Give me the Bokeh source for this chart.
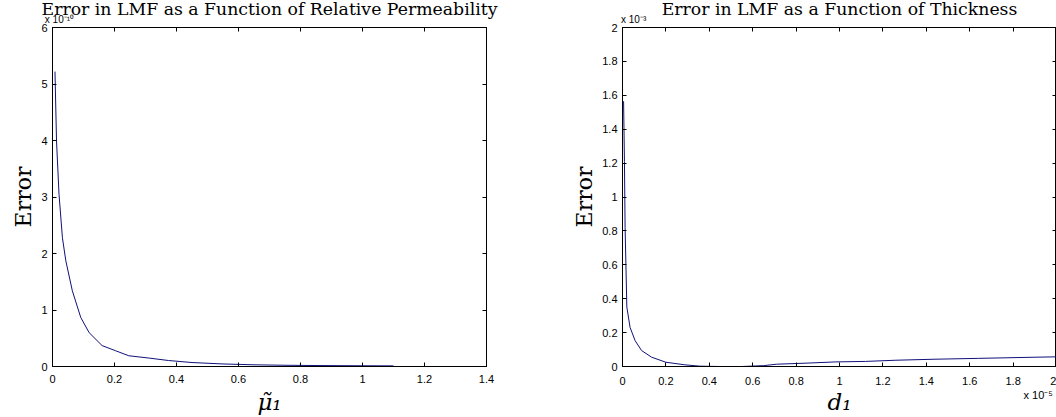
from bokeh.plotting import figure
from bokeh.models import LinearAxis, Range1d, FixedTicker, Title, CustomJSTickFormatter
from bokeh.layouts import row
from bokeh.embed import file_html
from bokeh.resources import INLINE

# ---- data ----
mu = [0.008, 0.013, 0.021, 0.032, 0.043, 0.064, 0.091, 0.118, 0.16, 0.203,
      0.246, 0.31, 0.374, 0.45, 0.55, 0.65, 0.75, 0.85, 0.95, 1.05, 1.1]
err_mu = [5.22, 3.99, 3.05, 2.28, 1.87, 1.34, 0.87, 0.60, 0.37, 0.28,
          0.19, 0.15, 0.106, 0.07, 0.045, 0.03, 0.022, 0.017, 0.014, 0.012, 0.011]

d = [0.005, 0.009, 0.012, 0.02, 0.035, 0.058, 0.088, 0.134, 0.2, 0.287, 0.356,
     0.45, 0.55, 0.65, 0.71, 0.85, 0.98, 1.12, 1.26, 1.44, 1.64, 1.91, 2.0]
err_d = [1.565, 1.21, 0.82, 0.35, 0.23, 0.153, 0.094, 0.055, 0.025, 0.01, 0.002,
         0.0, 0.0, 0.005, 0.0135, 0.02, 0.027, 0.03, 0.037, 0.043, 0.048, 0.055, 0.057]

x1_ticks = [0, 0.2, 0.4, 0.6, 0.8, 1.0, 1.2, 1.4]
x1_labels = ["0", "0.2", "0.4", "0.6", "0.8", "1", "1.2", "1.4"]
y1_ticks = [0, 1, 2, 3, 4, 5, 6]
y1_labels = ["0", "1", "2", "3", "4", "5", "6"]

x2_ticks = [0, 0.2, 0.4, 0.6, 0.8, 1.0, 1.2, 1.4, 1.6, 1.8, 2.0]
x2_labels = ["0", "0.2", "0.4", "0.6", "0.8", "1", "1.2", "1.4", "1.6", "1.8", "2"]
y2_ticks = [0, 0.2, 0.4, 0.6, 0.8, 1.0, 1.2, 1.4, 1.6, 1.8, 2.0]
y2_labels = ["0", "0.2", "0.4", "0.6", "0.8", "1", "1.2", "1.4", "1.6", "1.8", "2"]

titles = ["Error in LMF as a Function of Relative Permeability",
          "Error in LMF as a Function of Thickness"]
xlabels = ["\u03bc\u0303\u2081", "d\u2081"]
ylabel = "Error"
exponents = ["x 10\u207b\u00b9\u2070", "x 10\u207b\u00b3", "x 10\u207b\u2075"]

LINE = "#10107a"
TICKFONT = "Liberation Sans"
SERIF = "DejaVu Serif"
NB = "\u00a0"


def make(xs, ys, xr, yr, xt, xl, yt, yl, title, xlab, width, bl, br, top_exp):
    p = figure(width=width, height=417, output_backend="svg", toolbar_location=None,
               x_range=Range1d(*xr), y_range=Range1d(*yr),
               min_border_left=bl, min_border_right=br, min_border_top=27,
               min_border_bottom=51)
    p.title = Title(text=title, text_font=SERIF, text_font_size="17.3px",
                    text_font_style="normal", text_color="black", align="center",
                    vertical_align="bottom", offset=-15, standoff=-16)
    p.grid.visible = False
    p.outline_line_color = "black"
    p.outline_line_width = 1
    p.background_fill_color = "white"
    p.border_fill_color = "white"
    p.line(xs, ys, line_color=LINE, line_width=1)

    xa = p.xaxis[0]
    ya = p.yaxis[0]
    for ax in (xa, ya):
        ax.major_tick_in = 4
        ax.major_tick_out = 0
        ax.minor_tick_line_color = None
        ax.axis_line_color = "black"
        ax.major_label_text_font = TICKFONT
        ax.major_label_text_font_size = "11px"
        ax.major_label_text_color = "black"
        ax.axis_label_text_font = SERIF
        ax.axis_label_text_font_style = "normal"
        ax.axis_label_text_color = "black"
    xa.ticker = FixedTicker(ticks=xt)
    xa.major_label_overrides = dict(zip(xt, xl))
    ya.ticker = FixedTicker(ticks=yt)
    ya.major_label_overrides = dict(zip(yt, yl))
    xa.major_label_standoff = 8
    ya.major_label_standoff = 5
    xa.axis_label = xlab
    xa.axis_label_text_font_size = "23px"
    xa.axis_label_text_font_style = "italic"
    xa.axis_label_standoff = 3
    ya.axis_label = ylabel
    ya.axis_label_text_font_size = "22px"
    ya.axis_label_standoff = 2

    # mirrored tick marks on top / right; the top axis carries the exponent note
    top_fmt = CustomJSTickFormatter(args=dict(label=top_exp),
                                    code="return tick == 0 ? label : ''")
    blank = CustomJSTickFormatter(code="return ''")
    top = LinearAxis(ticker=FixedTicker(ticks=xt), major_tick_in=4, major_tick_out=0,
                     formatter=top_fmt, major_label_standoff=3,
                     major_label_text_font=TICKFONT, major_label_text_font_size="10px",
                     major_label_text_color="black", minor_tick_line_color=None)
    right = LinearAxis(ticker=FixedTicker(ticks=yt), major_tick_in=4, major_tick_out=0,
                       formatter=blank, major_label_standoff=0,
                       minor_tick_line_color=None)
    p.add_layout(top, "above")
    p.add_layout(right, "right")
    return p, xa


p1, xa1 = make(mu, err_mu, (0, 1.4), (0, 6), x1_ticks, x1_labels, y1_ticks, y1_labels,
               titles[0], xlabels[0], 500, 52, 14, NB * 5 + exponents[0])
p2, xa2 = make(d, err_d, (0, 2), (0, 2), x2_ticks, x2_labels, y2_ticks, y2_labels,
               titles[1], xlabels[1], 556, 122, 0, NB * 8 + exponents[1])

# bottom-right exponent note of the right panel, as a second line of its last tick label
ov = dict(zip(x2_ticks, x2_labels))
ov[x2_ticks[-1]] = NB * 10 + x2_labels[-1] + "\n" + exponents[2]
xa2.major_label_overrides = ov
xa2.axis_label_standoff = -15

layout = row(p1, p2, spacing=0)
open("out.html", "w").write(file_html(layout, INLINE))
